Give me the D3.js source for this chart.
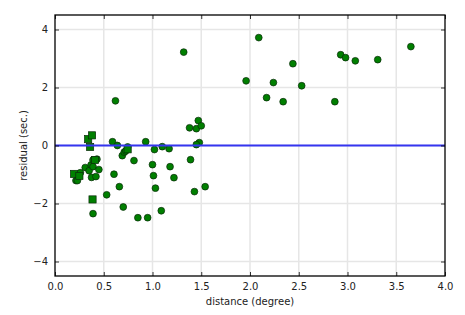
<!DOCTYPE html>
<html><head><meta charset="utf-8">
<script src="https://cdn.jsdelivr.net/npm/d3@7"></script>
<style>body{margin:0;background:#fff}svg{display:block}text{font-family:"DejaVu Sans",sans-serif;}</style>
</head><body><svg id="c" width="465" height="315"></svg>
<script>
const circleX = [1.32,2.09,2.44,1.96,2.24,2.53,2.17,2.34,1.47,1.38,1.45,1.50,1.48,1.45,1.02,1.10,1.17,1.39,
  2.93,2.98,3.08,3.31,3.65,2.87,0.62,0.59,0.64,0.93,0.745,0.69,0.71,0.725,0.81,1.00,0.605,1.01,0.66,1.03,0.53,0.70,0.85,0.95,0.39,
  0.215,0.23,0.26,0.31,0.35,0.37,0.39,0.39,0.43,0.45,0.375,0.42,1.18,1.22,1.43,1.54,1.09];
const circleY = [3.22,3.72,2.82,2.23,2.17,2.06,1.65,1.51,0.86,0.61,0.58,0.68,0.10,0.03,-0.14,-0.04,-0.11,-0.49,
  3.13,3.03,2.92,2.96,3.41,1.51,1.54,0.13,0.0,0.13,-0.05,-0.35,-0.23,-0.19,-0.52,-0.66,-0.99,-1.04,-1.42,-1.47,-1.70,-2.12,-2.49,-2.49,-2.35,
  -1.21,-1.21,-0.94,-0.76,-0.87,-0.67,-0.73,-0.50,-0.47,-0.83,-1.10,-1.07,-0.73,-1.11,-1.59,-1.42,-2.25];
const squareX = [0.34,0.38,0.36,0.745,0.41,0.195,0.25,0.385];
const squareY = [0.22,0.35,-0.05,-0.13,-0.50,-0.98,-1.05,-1.86];
const xTicks = [0,0.5,1,1.5,2,2.5,3,3.5,4];
const yTicks = [-4,-2,0,2,4];

const svg = d3.select("#c");
const L=55,R=445,T=15,B=276;
const x = d3.scaleLinear().domain([0,4]).range([L,R]);
const y = d3.scaleLinear().domain([-4.5,4.5]).range([B,T]);
const fmt = d=>d3.format(".1f")(d);
const yfmt = d=>d<0?"\u2212"+Math.abs(d):String(d);

// grid
svg.append("g").selectAll("line").data(xTicks.filter(d=>d>0&&d<4)).join("line")
  .attr("x1",d=>x(d)).attr("x2",d=>x(d)).attr("y1",T).attr("y2",B)
  .attr("stroke","#e6e6e6").attr("stroke-width",1.5);
svg.append("g").selectAll("line").data(yTicks).join("line")
  .attr("y1",d=>y(d)).attr("y2",d=>y(d)).attr("x1",L).attr("x2",R)
  .attr("stroke","#e6e6e6").attr("stroke-width",1.5);

// points
const circ = circleX.map((v,i)=>({x:v,y:circleY[i]}));
const sq = squareX.map((v,i)=>({x:v,y:squareY[i]}));
svg.append("g").selectAll("circle").data(circ).join("circle")
  .attr("cx",d=>x(d.x)).attr("cy",d=>y(d.y)).attr("r",3.4)
  .attr("fill","#007f00").attr("stroke","#0a2a0a").attr("stroke-width",0.7);
svg.append("g").selectAll("rect").data(sq).join("rect")
  .attr("x",d=>x(d.x)-3.6).attr("y",d=>y(d.y)-3.6).attr("width",7.2).attr("height",7.2)
  .attr("fill","#007f00").attr("stroke","#0a2a0a").attr("stroke-width",0.7);

// zero line
svg.append("line").attr("x1",L).attr("x2",R).attr("y1",y(0)).attr("y2",y(0))
  .attr("stroke","#3535f0").attr("stroke-width",1.8);

// axes
const tick=4;
const xb = svg.append("g").attr("transform",`translate(0,${B})`)
  .call(d3.axisBottom(x).tickValues(xTicks).tickFormat(fmt).tickSizeInner(-tick).tickSizeOuter(0).tickPadding(7));
const xt = svg.append("g").attr("transform",`translate(0,${T})`)
  .call(d3.axisTop(x).tickValues(xTicks).tickFormat("").tickSizeInner(-tick).tickSizeOuter(0));
const yl = svg.append("g").attr("transform",`translate(${L},0)`)
  .call(d3.axisLeft(y).tickValues(yTicks).tickFormat(yfmt).tickSizeInner(-tick).tickSizeOuter(0).tickPadding(7));
const yr = svg.append("g").attr("transform",`translate(${R},0)`)
  .call(d3.axisRight(y).tickValues(yTicks).tickFormat("").tickSizeInner(-tick).tickSizeOuter(0));
[xb,xt,yl,yr].forEach(g=>{
  g.select(".domain").remove();
  g.selectAll(".tick line").attr("stroke","#000").attr("stroke-width",0.8);
  g.selectAll("text").attr("font-family","DejaVu Sans").attr("font-size",10).attr("fill","#222");
});
// frame
svg.append("rect").attr("x",L).attr("y",T).attr("width",R-L).attr("height",B-T)
  .attr("fill","none").attr("stroke","#000").attr("stroke-width",1.3);

svg.append("text").attr("x",(L+R)/2).attr("y",305).attr("text-anchor","middle")
  .attr("font-size",10).attr("fill","#222").text("distance (degree)");
svg.append("text").attr("transform",`translate(27,${(T+B)/2}) rotate(-90)`).attr("text-anchor","middle")
  .attr("font-size",10).attr("fill","#222").text("residual (sec.)");
</script></body></html>
